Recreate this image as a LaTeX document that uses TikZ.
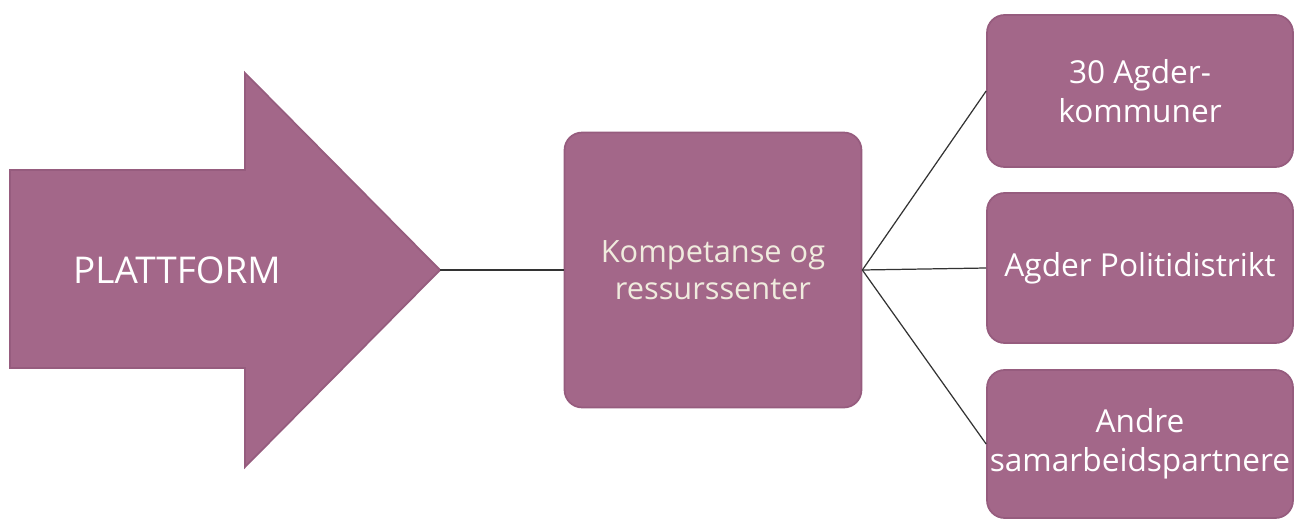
\documentclass[tikz,border=0pt]{standalone}
\usepackage{fontspec}
\setmainfont{Open Sans}
\usetikzlibrary{calc,positioning}
\definecolor{plum}{RGB}{163,103,137}
\definecolor{plumedge}{RGB}{150,92,126}
\definecolor{cream}{RGB}{240,236,222}

\tikzset{
  boksstil/.style={draw=plumedge,line width=1pt,fill=plum,rounded corners=10pt,
    text=white,align=center,font=\fontsize{18}{22}\selectfont,inner sep=0pt},
  linjestil/.style={draw=black!80,line width=0.7pt}
}

\begin{document}
\begin{tikzpicture}[x=0.02cm,y=-0.02cm]
\useasboundingbox (0,0) rectangle (1296,521);
%PLATTFORM pil
\coordinate (cAPt) at (10,170);
\coordinate (cBPt) at (245,170);
\coordinate (cCPt) at (245,73);
\coordinate (cTipPt) at (440,270);
\coordinate (cDPt) at (245,467);
\coordinate (cEPt) at (245,368);
\coordinate (cFPt) at (10,368);
\draw[draw=plumedge,line width=1pt,fill=plum] (cAPt) -- (cBPt) -- (cCPt) -- (cTipPt) -- (cDPt) -- (cEPt) -- (cFPt) -- cycle;
\node[text=white,font=\fontsize{21}{25}\selectfont] (plattform) at (177,270) {PLATTFORM};

%midtboks
\node[boksstil,minimum width=5.94cm,minimum height=5.5cm,text=cream,
  font=\fontsize{17.5}{21}\selectfont] (senter) at (713,270) {Kompetanse og\\ressurssenter};

%boksene til hoyre
\node[boksstil,minimum width=6.12cm,minimum height=3.04cm] (kommuner) at (1140,91) {30 Agder-\\kommuner};
\node[boksstil,minimum width=6.12cm,minimum height=3.0cm] (politi) at (1140,268) {Agder Politidistrikt};
\node[boksstil,minimum width=6.12cm,minimum height=2.96cm] (andre) at (1140,444) {Andre\\samarbeidspartnere};

\draw[linjestil] (cTipPt) -- (senter.west);
\foreach \v in {kommuner,politi,andre}
{
    \draw[linjestil] (senter.east) -- (\v.west);
};
\end{tikzpicture}
\end{document}
